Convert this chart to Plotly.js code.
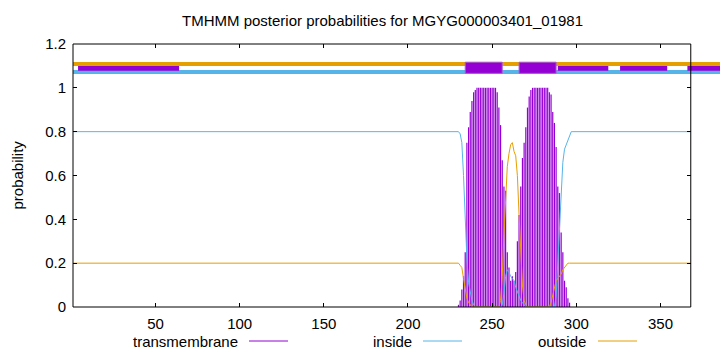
<!DOCTYPE html>
<html><head><meta charset="utf-8">
<script src="https://cdn.plot.ly/plotly-3.0.1.min.js"></script>
<style>html,body{margin:0;padding:0;background:#fff}#chart{width:720px;height:352px}</style>
</head><body><div id="chart"></div>
<script>
// ---- data ----
const seqLength = 368;
const titleText = "TMHMM posterior probabilities for MGYG000003401_01981";
const seriesNames = ["transmembrane", "inside", "outside"];

const tmResidues = [230,231,232,233,234,235,236,237,238,239,240,241,242,243,244,245,246,247,248,249,250,251,252,253,254,255,256,257,258,259,260,261,262,263,264,265,266,267,268,269,270,271,272,273,274,275,276,277,278,279,280,281,282,283,284,285,286,287,288,289,290,291,292,293,294,295,296];
const tmProb = [0.01,0.03,0.08,0.14,0.25,0.75,0.82,0.89,0.94,0.98,0.99,1,1,1,1,1,1,1,1,1,1,1,1,0.98,0.91,0.83,0.67,0.55,0.53,0.25,0.18,0.12,0.14,0.12,0.16,0.30,0.42,0.55,0.68,0.75,0.82,0.91,0.96,0.99,1,1,1,1,1,1,1,1,1,1,0.98,0.97,0.89,0.84,0.73,0.55,0.52,0.34,0.25,0.12,0.09,0.04,0.02];

const lineResidues = [1,229,230,231,232,233,234,235,236,237,238,239,240,241,242,243,244,245,246,247,248,249,250,251,252,253,254,255,256,257,258,259,260,261,262,263,264,265,266,267,268,269,270,271,272,273,274,275,276,277,278,279,280,281,282,283,284,285,286,287,288,289,290,291,292,293,294,295,296,297,298,368];
const insideProb = [0.8,0.8,0.80,0.79,0.75,0.60,0.40,0.22,0.11,0.06,0.03,0.01,0,0,0,0,0,0,0,0,0,0,0,0,0,0,0,0,0.01,0.06,0.14,0.17,0.16,0.14,0.13,0.12,0.09,0.07,0.05,0.03,0.02,0.01,0,0,0,0,0,0,0,0,0,0,0,0,0,0,0,0,0,0,0.05,0.20,0.37,0.52,0.66,0.72,0.74,0.76,0.78,0.80,0.80,0.8];
const outsideProb = [0.2,0.2,0.20,0.19,0.18,0.13,0.08,0.04,0.02,0.01,0,0,0,0,0,0,0,0,0,0,0,0,0,0,0,0,0,0.03,0.14,0.33,0.50,0.64,0.70,0.74,0.75,0.71,0.69,0.60,0.42,0.24,0.10,0.03,0.01,0,0,0,0,0,0,0,0,0,0,0,0,0,0,0.02,0.05,0.09,0.12,0.13,0.14,0.15,0.17,0.18,0.19,0.20,0.20,0.20,0.20,0.2];

const tmHelixStart = [234, 266];
const tmHelixEnd = [256, 288];
const bandSegStart = [4, 289, 326, 366];
const bandSegEnd = [64, 319, 354, 386];

// ---- style / layout ----
const C_TM = "#9400d3", C_IN = "#56b4e9", C_OUT = "#e69f00";
const FONT = "Liberation Sans, Arial, sans-serif";
const W = 720, H = 352, L = 73, T = 44, B = 45, R = 0;
const pxPerRes = 1.6833;
const xMin = 1, xMax = xMin + (W - L - R) / pxPerRes;
const pw = W - L - R, ph = H - T - B;
const px2paperX = p => (p - L) / pw;
const py2paperY = p => (H - B - p) / ph;
const frameRight = (seqLength - xMin) / (xMax - xMin);

const impX = [], impY = [];
tmResidues.forEach((r, i) => { impX.push(r, r, null); impY.push(0, tmProb[i], null); });

const traces = [
  {x: impX, y: impY, type: "scatter", mode: "lines", line: {color: C_TM, width: 1.2}, hoverinfo: "skip", showlegend: false},
  {x: lineResidues, y: insideProb, type: "scatter", mode: "lines", line: {color: C_IN, width: 1}, showlegend: false},
  {x: lineResidues, y: outsideProb, type: "scatter", mode: "lines", line: {color: C_OUT, width: 1}, showlegend: false},
  {x: [xMin], y: [0], yaxis: "y2", type: "scatter", mode: "markers", marker: {opacity: 0}, hoverinfo: "skip", showlegend: false}
];

const shapes = [];
// top band lines
shapes.push({type: "line", xref: "x", yref: "y", x0: xMin, x1: xMax + 1, y0: 1.109, y1: 1.109, line: {color: C_OUT, width: 4}});
shapes.push({type: "line", xref: "x", yref: "y", x0: xMin, x1: xMax + 1, y0: 1.072, y1: 1.072, line: {color: C_IN, width: 4}});
bandSegStart.forEach((s, i) => shapes.push({type: "rect", xref: "x", yref: "y", x0: s, x1: bandSegEnd[i], y0: 1.078, y1: 1.100, fillcolor: C_TM, line: {width: 0}}));
tmHelixStart.forEach((s, i) => shapes.push({type: "rect", xref: "x", yref: "y", x0: s, x1: tmHelixEnd[i], y0: 1.066, y1: 1.117, fillcolor: C_TM, line: {color: "#a860d8", width: 1}}));
// frame
shapes.push({type: "rect", xref: "paper", yref: "paper", x0: 0, x1: frameRight, y0: 0, y1: 1, line: {color: "#000", width: 1}, fillcolor: "rgba(0,0,0,0)"});

// legend (gnuplot style: text then sample)
const legTextRight = [240, 414, 588];
const legLine0 = [249, 423, 598], legLine1 = [288, 462, 637];
const legColors = [C_TM, C_IN, C_OUT];
const legY = 341;
const annotations = [];
seriesNames.forEach((n, i) => {
  annotations.push({xref: "paper", yref: "paper", x: px2paperX(legTextRight[i]), y: py2paperY(legY), xanchor: "right", yanchor: "middle", text: n, showarrow: false, font: {family: FONT, size: 15, color: "#000"}});
  shapes.push({type: "line", xref: "paper", yref: "paper", x0: px2paperX(legLine0[i]), x1: px2paperX(legLine1[i]), y0: py2paperY(legY), y1: py2paperY(legY), line: {color: legColors[i], width: 1}});
});
annotations.push({xref: "paper", yref: "paper", x: px2paperX(17), y: 0.5, xanchor: "center", yanchor: "middle", textangle: -90, text: "probability", showarrow: false, font: {family: FONT, size: 15, color: "#000"}});

const layout = {
  width: W, height: H,
  margin: {l: L, r: R, t: T, b: B, pad: 0},
  paper_bgcolor: "#fff", plot_bgcolor: "#fff",
  font: {family: FONT, size: 15, color: "#000"},
  title: {text: titleText, xref: "container", yref: "container", x: 382.5 / W, y: 1 - 21 / H, xanchor: "center", yanchor: "middle", font: {family: FONT, size: 15, color: "#000"}},
  xaxis: {range: [xMin, xMax], tick0: 0, dtick: 50, ticks: "inside", ticklen: 4, tickcolor: "#000", mirror: "ticks", showline: false, showgrid: false, zeroline: false, ticklabelstandoff: 6, tickfont: {family: FONT, size: 15}},
  yaxis: {range: [0, 1.2], dtick: 0.2, ticks: "inside", ticklen: 4, tickcolor: "#000", showline: false, showgrid: false, zeroline: false, ticklabelstandoff: 6, tickfont: {family: FONT, size: 15}},
  yaxis2: {range: [0, 1.2], dtick: 0.2, overlaying: "y", anchor: "free", position: frameRight, side: "right", ticks: "inside", ticklen: 4, tickcolor: "#000", showticklabels: false, showline: false, showgrid: false, zeroline: false},
  shapes: shapes,
  annotations: annotations,
  showlegend: false
};

Plotly.newPlot("chart", traces, layout, {displayModeBar: false, staticPlot: true});
</script>
</body></html>
